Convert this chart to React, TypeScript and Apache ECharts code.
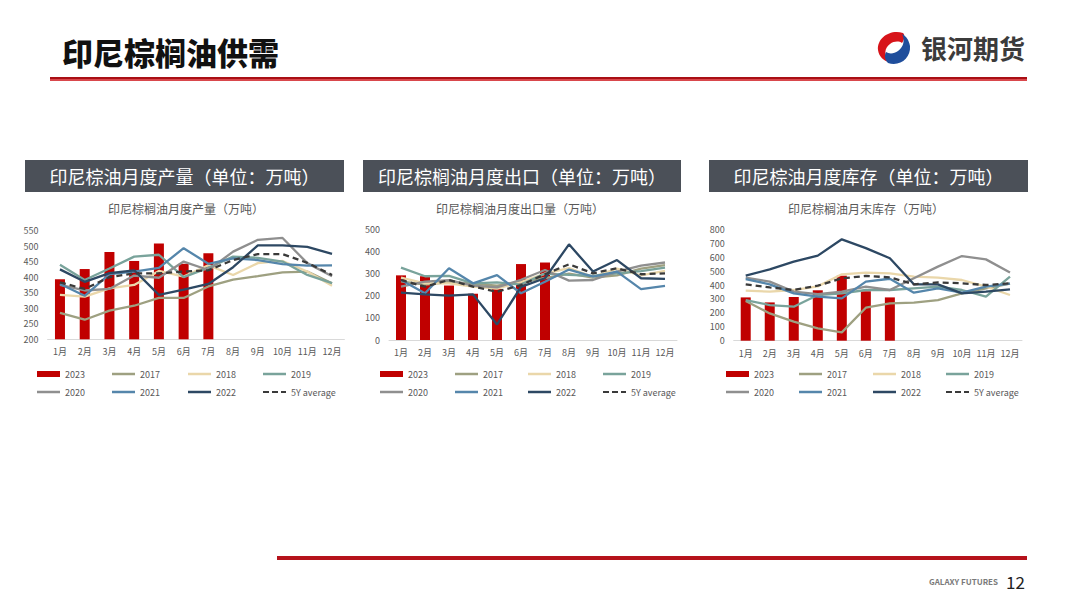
import React, { useEffect, useRef } from 'react';
import * as echarts from 'echarts';

const months = ['1月', '2月', '3月', '4月', '5月', '6月', '7月', '8月', '9月', '10月', '11月', '12月'];
const seriesNames = ['2023', '2017', '2018', '2019', '2020', '2021', '2022', '5Y average'];

// 印尼棕榈油月度产量（万吨）
const prod2023 = [393, 426, 481, 452, 508, 443, 477];
const prod2017 = [285, 263, 292, 308, 333, 333, 370, 392, 403, 415, 418, 380];
const prod2018 = [343, 337, 364, 375, 420, 402, 438, 407, 445, 452, 418, 372];
const prod2019 = [440, 391, 428, 466, 472, 400, 430, 466, 462, 450, 407, 381];
const prod2020 = [375, 357, 362, 405, 398, 450, 423, 482, 520, 526, 445, 403];
const prod2021 = [378, 340, 410, 418, 430, 493, 443, 460, 455, 442, 437, 438];
const prod2022 = [425, 385, 413, 422, 343, 360, 378, 432, 502, 502, 497, 475];
const prod5y = [383, 362, 400, 412, 412, 418, 422, 455, 474, 474, 446, 407];

// 印尼棕榈油月度出口量（万吨）
const exp2023 = [292, 288, 246, 209, 230, 343, 350];
const exp2017 = [265, 250, 262, 255, 245, 262, 280, 300, 282, 292, 322, 338];
const exp2018 = [282, 256, 256, 241, 232, 262, 300, 325, 285, 322, 292, 312];
const exp2019 = [327, 288, 290, 256, 260, 250, 300, 294, 290, 301, 311, 327];
const exp2020 = [241, 264, 270, 246, 238, 272, 316, 268, 271, 309, 336, 350];
const exp2021 = [271, 211, 324, 256, 293, 211, 263, 318, 286, 309, 230, 244];
const exp2022 = [214, 206, 200, 206, 70, 240, 279, 432, 309, 361, 279, 276];
const exp5y = [271, 241, 271, 241, 218, 248, 297, 342, 301, 324, 297, 301];

// 印尼棕榈油月末库存（万吨）
const stk2023 = [311, 275, 314, 362, 467, 355, 311];
const stk2017 = [285, 196, 137, 89, 60, 237, 268, 273, 292, 340, 376, 410];
const stk2018 = [359, 352, 364, 390, 477, 489, 484, 460, 453, 436, 388, 328];
const stk2019 = [292, 256, 244, 328, 340, 364, 364, 376, 388, 364, 316, 460];
const stk2020 = [453, 424, 352, 335, 352, 388, 364, 448, 532, 608, 584, 489];
const stk2021 = [443, 405, 340, 316, 304, 424, 445, 345, 376, 345, 388, 410];
const stk2022 = [467, 512, 568, 611, 728, 665, 592, 405, 405, 340, 352, 369];
const stk5y = [405, 383, 364, 395, 448, 465, 455, 405, 419, 412, 400, 412];

const chartTitles = ['印尼棕榈油月度产量（万吨）', '印尼棕榈油月度出口量（万吨）', '印尼棕榈油月末库存（万吨）'];
const boxTitles = ['印尼棕油月度产量（单位：万吨）', '印尼棕榈油月度出口（单位：万吨）', '印尼棕油月度库存（单位：万吨）'];
const yAxes = [
  { min: 200, max: 550, interval: 50 },
  { min: 0, max: 500, interval: 100 },
  { min: 0, max: 800, interval: 100 },
];
const chartData = [
  [prod2023, prod2017, prod2018, prod2019, prod2020, prod2021, prod2022, prod5y],
  [exp2023, exp2017, exp2018, exp2019, exp2020, exp2021, exp2022, exp5y],
  [stk2023, stk2017, stk2018, stk2019, stk2020, stk2021, stk2022, stk5y],
];

const colors = ['#c00000', '#9ea081', '#ead7aa', '#79a39b', '#8f8f8f', '#5586ab', '#2d4863', '#3a3a3a'];

echarts.graphic.registerShape(
  'logoRed',
  echarts.graphic.extendPath('M27 3 C14 -1 1 8 2 20 C3 27 8 31 13 32 C8 26 8 18 14 14 C18 11 23 11 26 13 C29 9 29 5 27 3 Z', {})
);
echarts.graphic.registerShape(
  'logoBlue',
  echarts.graphic.extendPath('M12 33 C24 37 35 28 34 16 C33 10 30 6 26 4 C29 9 28 17 22 21 C18 24 13 24 10 22 C8 26 9 30 12 33 Z', {})
);

const FONT = '"Noto Sans CJK SC", "Noto Sans", sans-serif';
const DASH_ICON = 'path://M0,0h6v2h-6z M9,0h6v2h-6z M18,0h5v2h-5z';

export default function App() {
  const ref = useRef<HTMLDivElement>(null);
  useEffect(() => {
    const chart = echarts.init(ref.current!, null, { renderer: 'svg' });

    const grids = [
      { left: 47.6, top: 230.5, width: 296.8, height: 108.8 },
      { left: 389, top: 229.3, width: 288, height: 110.7 },
      { left: 733.7, top: 229.3, width: 288.3, height: 111.4 },
    ];
    const titleCenters = [186, 520, 866];
    const boxes = [
      { x: 25, w: 319 },
      { x: 363, w: 318 },
      { x: 709, w: 319 },
    ];
    const legendCols = [
      [37, 112, 188, 263],
      [380, 455, 528, 603],
      [726, 799, 873, 946],
    ];
    const legendRows = [374, 392];

    const series: any[] = [];
    chartData.forEach((arrs, ci) => {
      arrs.forEach((arr, si) => {
        if (si === 0) {
          series.push({
            name: seriesNames[si],
            type: 'bar',
            xAxisIndex: ci,
            yAxisIndex: ci,
            data: arr,
            barWidth: 10,
            itemStyle: { color: colors[0] },
          });
        } else {
          series.push({
            name: seriesNames[si],
            type: 'line',
            xAxisIndex: ci,
            yAxisIndex: ci,
            data: arr,
            symbol: 'none',
            z: 3 + si,
            lineStyle: { color: colors[si], width: 2.3, type: si === 7 ? [6, 4] : 'solid' },
            itemStyle: { color: colors[si] },
          });
        }
      });
    });

    const legends: any[] = [];
    legendCols.forEach((cols) => {
      seriesNames.forEach((n, i) => {
        const h = i === 0 ? 6 : 2.5;
        legends.push({
          data: [{ name: n, icon: i === 0 ? 'rect' : i === 7 ? DASH_ICON : 'rect' }],
          left: cols[i % 4],
          top: legendRows[Math.floor(i / 4)] - 6,
          padding: 0,
          itemWidth: 23,
          itemHeight: h,
          itemGap: 0,
          selectedMode: false,
          itemStyle: { color: colors[i], borderWidth: 0 },
          lineStyle: { width: 0 },
          textStyle: { color: '#595959', fontSize: 9, fontFamily: FONT, padding: [0, 0, 0, 0], lineHeight: 12 },
        });
      });
    });

    const graphics: any[] = [
      { type: 'rect', shape: { x: 50, y: 77, width: 977, height: 2 }, style: { fill: '#a90f14' } },
      { type: 'rect', shape: { x: 50, y: 79, width: 977, height: 2 }, style: { fill: '#d9484c' } },
      { type: 'rect', shape: { x: 277, y: 556, width: 750, height: 4 }, style: { fill: '#b5121b' } },
      {
        type: 'text',
        x: 62,
        y: 51,
        style: { text: '印尼棕榈油供需', fontSize: 31, fontWeight: 900, fill: '#111', fontFamily: FONT, textVerticalAlign: 'middle' },
      },
      { type: 'logoRed', x: 876, y: 30, style: { fill: '#d7141a' } },
      { type: 'logoBlue', x: 876, y: 30, style: { fill: '#1f4e9c' } },
      {
        type: 'text',
        x: 921,
        y: 47,
        style: { text: '银河期货', fontSize: 26, fontWeight: 'bold', fill: '#3b3b3b', fontFamily: FONT, textVerticalAlign: 'middle' },
      },
      {
        type: 'text',
        x: 998,
        y: 581,
        style: { text: 'GALAXY FUTURES', fontSize: 8, fontWeight: 'bold', fill: '#7a7a7a', fontFamily: FONT, textAlign: 'right', textVerticalAlign: 'middle' },
      },
      {
        type: 'text',
        x: 1006,
        y: 581,
        style: { text: '12', fontSize: 17, fill: '#222', fontFamily: FONT, textVerticalAlign: 'middle' },
      },
    ];
    boxes.forEach((b, i) => {
      graphics.push({ type: 'rect', shape: { x: b.x, y: 160, width: b.w, height: 32 }, style: { fill: '#4b5058' } });
      graphics.push({
        type: 'text',
        x: b.x + b.w / 2,
        y: 176,
        style: { text: boxTitles[i], fontSize: 18, fill: '#ffffff', fontFamily: FONT, textAlign: 'center', textVerticalAlign: 'middle' },
      });
    });

    const option: any = {
      animation: false,
      backgroundColor: '#ffffff',
      title: chartTitles.map((t, i) => ({
        text: t,
        left: titleCenters[i],
        top: 202,
        textAlign: 'center',
        padding: 0,
        textStyle: { fontSize: 12, fontWeight: 'normal', color: '#595959', fontFamily: FONT },
      })),
      grid: grids,
      xAxis: grids.map((_, i) => ({
        type: 'category',
        gridIndex: i,
        data: months,
        axisTick: { show: false },
        axisLine: { lineStyle: { color: '#d9d9d9', width: 1 } },
        axisLabel: { color: '#595959', fontSize: 9, margin: 8, fontFamily: FONT, interval: 0 },
      })),
      yAxis: yAxes.map((y, i) => ({
        type: 'value',
        gridIndex: i,
        min: y.min,
        max: y.max,
        interval: y.interval,
        splitLine: { show: false },
        axisLine: { show: false },
        axisTick: { show: false },
        axisLabel: { color: '#595959', fontSize: 9, margin: 9, fontFamily: FONT },
      })),
      legend: legends,
      series,
      graphic: graphics,
    };
    chart.setOption(option);
    return () => chart.dispose();
  }, []);
  return (
    <div
      ref={ref}
      style={{ position: 'fixed', left: 0, top: 0, width: 1080, height: 608, background: '#fff' }}
    />
  );
}
